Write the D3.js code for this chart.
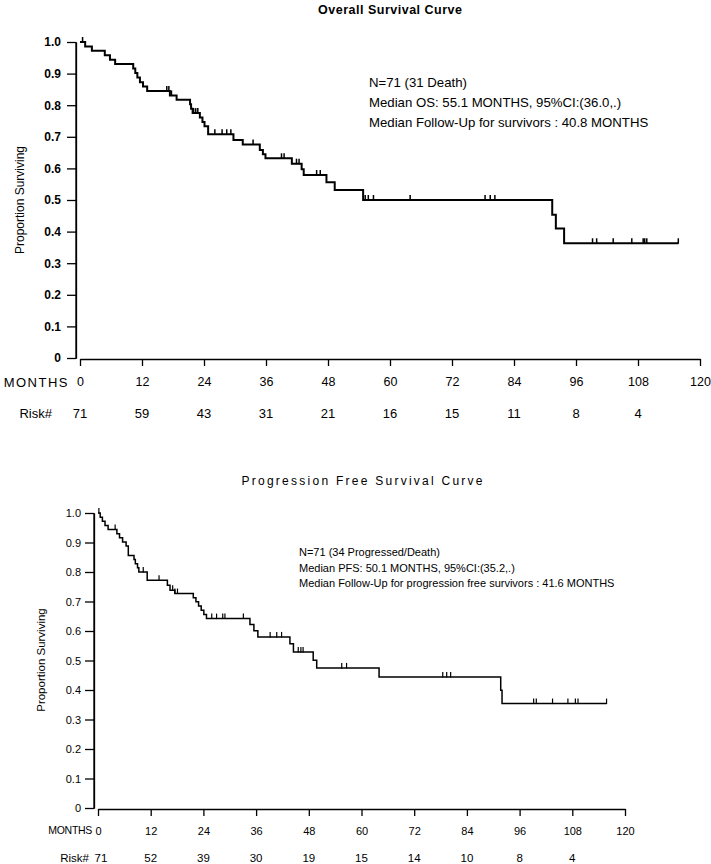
<!DOCTYPE html>
<html><head><meta charset="utf-8">
<script src="https://cdn.jsdelivr.net/npm/d3@7"></script>
<style>
body{margin:0;background:#fff;}
svg{display:block;font-family:"Liberation Sans",Arial,sans-serif;}
</style></head>
<body>
<svg id="c" width="711" height="864"></svg>
<script>
// ---------- DATA ----------
const monthTicks = [0,12,24,36,48,60,72,84,96,108,120];
const riskMonths = [0,12,24,36,48,60,72,84,96,108];
const yTicks = [0,0.1,0.2,0.3,0.4,0.5,0.6,0.7,0.8,0.9,1.0];

// Overall survival: step times and survival after step
const osTime = [0,1.0,2.3,4.8,5.8,6.8,10.3,10.7,11.1,11.6,12.2,13.0,17.4,18.7,21.3,21.5,21.8,23.2,23.7,24.1,24.8,29.7,31.5,34.8,35.4,35.9,41.0,42.9,43.3,47.7,49.3,54.8,91.4,92.1,93.7,115.8];
const osSurv = [1.0,0.986,0.972,0.958,0.944,0.930,0.916,0.902,0.888,0.873,0.859,0.845,0.831,0.817,0.803,0.789,0.775,0.761,0.747,0.733,0.708,0.690,0.676,0.658,0.645,0.632,0.615,0.597,0.579,0.556,0.532,0.500,0.453,0.410,0.363,0.363];
const osCensor = [0.5,16.8,17.2,17.7,22.0,22.4,22.8,26.1,27.5,28.4,29.2,33.5,39.0,39.5,41.9,42.4,45.8,46.5,55.2,55.8,56.8,63.9,78.4,79.4,80.3,99.2,100.0,103.2,106.8,109.0,109.3,109.7,115.8];
const osRisk = [71,59,43,31,21,16,15,11,8,4];

// Progression free survival
const pfsTime = [0,0.5,1.0,1.6,2.3,4.3,4.9,5.6,6.4,6.9,8.2,8.5,9.0,9.3,11.2,15.8,16.4,17.5,21.7,22.3,22.9,23.5,24.1,24.7,34.6,35.5,36.4,43.7,44.5,49.0,49.8,64.0,91.7,92.0,115.8];
const pfsSurv = [1.0,0.986,0.972,0.958,0.944,0.930,0.916,0.902,0.888,0.856,0.842,0.828,0.814,0.800,0.772,0.755,0.738,0.727,0.713,0.699,0.685,0.670,0.656,0.642,0.622,0.601,0.580,0.557,0.529,0.501,0.475,0.444,0.399,0.354,0.354];
const pfsCensor = [0.2,3.9,10.3,13.9,17.0,17.5,18.1,25.9,27.0,28.4,28.9,33.1,39.2,40.7,41.8,45.6,46.2,46.7,55.5,56.6,78.5,79.4,80.3,99.2,99.8,103.5,107.0,108.7,109.3,115.8];
const pfsRisk = [71,52,39,30,19,15,14,10,8,4];

const osNotes = ["N=71 (31 Death)","Median OS: 55.1 MONTHS, 95%CI:(36.0,.)","Median Follow-Up for survivors : 40.8 MONTHS"];
const pfsNotes = ["N=71 (34 Progressed/Death)","Median PFS: 50.1 MONTHS, 95%CI:(35.2,.)","Median Follow-Up for progression free survivors : 41.6 MONTHS"];

// ---------- DRAW ----------
const svg = d3.select("#c");

function survAt(times, surv, t){
  let v = surv[0];
  for(let i=0;i<times.length;i++){ if(times[i] <= t) v = surv[i]; }
  return v;
}

function panel(o){
  const g = svg.append("g");
  const x = d3.scaleLinear().domain([0,120]).range(o.xr);
  const y = d3.scaleLinear().domain([0,1]).range(o.yr);

  // title
  g.append("text").attr("x",o.titleX).attr("y",o.titleY).attr("text-anchor","middle")
    .attr("font-size",o.titleSize).attr("font-weight",o.titleWeight)
    .attr("textLength",o.titleLen).attr("lengthAdjust","spacing").text(o.title);

  // y axis
  const ya = d3.axisLeft(y).tickValues(yTicks).tickSize(o.yTick).tickSizeOuter(0).tickPadding(o.yPad)
    .tickFormat(d => d===0 ? "0" : d3.format(".1f")(d));
  const yg = g.append("g").attr("transform",`translate(${o.yAxisX},0)`).call(ya);
  yg.selectAll("path,line").attr("stroke","#000").attr("stroke-width",1.3);
  yg.selectAll("text").attr("font-size",o.yTickFont).attr("font-family","'Liberation Sans',Arial,sans-serif")
    .attr("font-weight",o.yTickWeight).attr("fill","#000");
  g.append("line").attr("x1",o.yAxisX).attr("x2",o.yAxisX).attr("y1",y(1)).attr("y2",y(0)+1)
    .attr("stroke","#000").attr("stroke-width",1.3);

  // x axis
  const xa = d3.axisBottom(x).tickValues(monthTicks).tickSize(o.xTick).tickSizeOuter(0).tickPadding(o.xPad)
    .tickFormat(d3.format("d"));
  const xg = g.append("g").attr("transform",`translate(0,${y(0)+1})`).call(xa);
  xg.selectAll("path,line").attr("stroke","#000").attr("stroke-width",1.3);
  xg.selectAll("text").attr("font-size",o.xTickFont).attr("font-family","'Liberation Sans',Arial,sans-serif")
    .attr("fill","#000");

  // y label
  g.append("text").attr("transform",`translate(${o.ylabX},${o.ylabY}) rotate(-90)`)
    .attr("text-anchor","middle").attr("font-size",o.labFont).text("Proportion Surviving");

  // MONTHS label & risk
  g.append("text").attr("x",o.monthsX).attr("y",o.rowY1).attr("text-anchor","end")
    .attr("font-size",o.monthsFont).attr("letter-spacing",o.monthsSp).text("MONTHS");
  g.append("text").attr("x",o.riskX).attr("y",o.rowY2).attr("text-anchor","end")
    .attr("font-size",o.rowFont).text("Risk#");
  g.selectAll(".risk").data(o.risk).enter().append("text")
    .attr("x",(d,i)=>x(riskMonths[i])+(i===0?o.risk0Shift:0)).attr("y",o.rowY2).attr("text-anchor","middle")
    .attr("font-size",o.rowFont).text(d=>d);

  // curve
  const pts = o.times.map((t,i)=>[t,o.surv[i]]);
  const line = d3.line().x(d=>x(d[0])).y(d=>y(d[1])).curve(d3.curveStepAfter);
  g.append("path").attr("d",line(pts)).attr("fill","none").attr("stroke","#000")
    .attr("stroke-width",o.lw);

  // censor marks
  g.selectAll(".cen").data(o.censor).enter().append("line")
    .attr("x1",d=>x(d)).attr("x2",d=>x(d))
    .attr("y1",d=>y(survAt(o.times,o.surv,d))-o.cenH)
    .attr("y2",d=>y(survAt(o.times,o.surv,d))+0.5)
    .attr("stroke","#000").attr("stroke-width",o.cw);

  // notes
  g.selectAll(".note").data(o.notes).enter().append("text")
    .attr("x",o.noteX).attr("y",(d,i)=>o.noteY+i*o.noteDy)
    .attr("font-size",o.noteFont).text(d=>d);
}

panel({
  title:"Overall Survival Curve", titleX:390, titleY:14, titleSize:12.5, titleWeight:"bold", titleLen:144,
  xr:[80,700], yr:[358,42], yAxisX:76, yTick:9, xTick:7, xPad:11, yPad:6,
  yTickFont:12, yTickWeight:"bold", xTickFont:12.5, labFont:12, ylabX:24, ylabY:200,
  monthsX:69, monthsFont:13, monthsSp:1.5, rowY1:387, riskX:52, rowY2:418, rowFont:13, risk0Shift:0,
  times:osTime, surv:osSurv, censor:osCensor, risk:osRisk, lw:2, cenH:5, cw:1.5,
  notes:osNotes, noteX:369, noteY:87, noteDy:20, noteFont:13.2
});

panel({
  title:"Progression Free Survival Curve", titleX:362, titleY:485, titleSize:12, titleWeight:"normal", titleLen:241,
  xr:[98,625], yr:[808,513], yAxisX:94, yTick:9, xTick:7, xPad:11, yPad:4,
  yTickFont:11, yTickWeight:"normal", xTickFont:11, labFont:11.5, ylabX:45, ylabY:660,
  monthsX:92, monthsFont:10.5, monthsSp:-0.3, rowY1:834, riskX:89, rowY2:862, rowFont:11.5, risk0Shift:3,
  times:pfsTime, surv:pfsSurv, censor:pfsCensor, risk:pfsRisk, lw:1.5, cenH:5, cw:1.2,
  notes:pfsNotes, noteX:299, noteY:556, noteDy:15.5, noteFont:11
});
</script>
</body></html>
